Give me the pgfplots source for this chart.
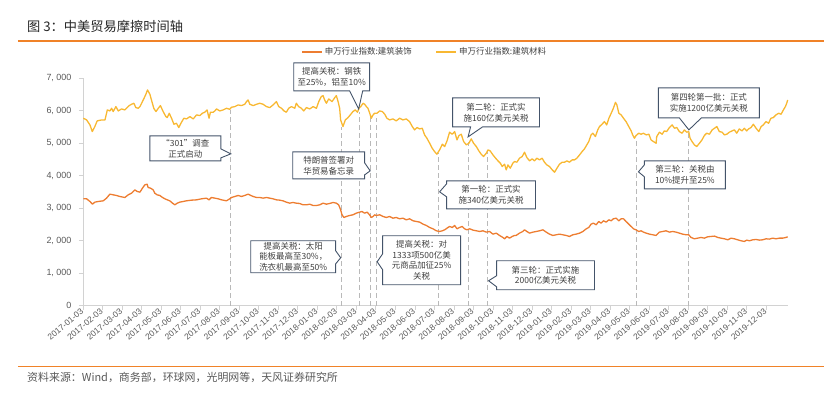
\documentclass[border=0pt]{standalone}
\usepackage{pgfplots}
\pgfplotsset{compat=1.18}
\usepackage{fontspec}
\setmainfont{Liberation Sans}
\newfontfamily\cjk{Noto Sans CJK SC}
\definecolor{cOrange}{RGB}{237,125,49}
\definecolor{cYellow}{RGB}{248,184,50}
\definecolor{cRule}{RGB}{240,130,40}
\definecolor{cBox}{RGB}{68,84,106}
\definecolor{cTxt}{RGB}{64,64,64}
\definecolor{cAxis}{RGB}{210,210,210}
\definecolor{cDash}{RGB}{185,185,185}
\tikzset{
  cbox/.style={draw=cBox, line width=0.9bp, fill=white, line join=miter},
  ctext/.style={align=center, inner sep=0pt, font=\cjk\fontsize{8.5}{11}\selectfont, text=cTxt},
}
\begin{document}
\begin{tikzpicture}
\begin{scope}[x=1bp,y=-1bp]
\path (0,0) rectangle (825,398);
\node[anchor=base west, inner sep=0pt, font=\cjk\fontsize{13.3}{15}\selectfont, text=black!85] at (27,31.5) {图 3：中美贸易摩擦时间轴};
\draw[cRule, line width=1.5bp] (18,41) -- (825,41);
\draw[cRule, line width=1.5bp] (18,367) -- (825,367);
\node[anchor=base west, inner sep=0pt, font=\cjk\fontsize{11}{12}\selectfont, text=black!65] at (27,381.5) {资料来源：Wind，商务部，环球网，光明网等，天风证券研究所};
\end{scope}

\begin{axis}[
  at={(83bp,-306bp)}, anchor=south west,
  scale only axis, width=705.4bp, height=228bp,
  xmin=0, xmax=36.1, ymin=0, ymax=7000,
  axis x line=bottom, axis y line=left,
  axis line style={cAxis, line width=0.8bp, -},
  tick style={cAxis, line width=0.6bp},
  tick align=outside, major tick length=4bp,
  clip=false,
  xtick={0,...,35},
  xticklabels={2017-01-03,2017-02-03,2017-03-03,2017-04-03,2017-05-03,2017-06-03,2017-07-03,2017-08-03,2017-09-03,2017-10-03,2017-11-03,2017-12-03,2018-01-03,2018-02-03,2018-03-03,2018-04-03,2018-05-03,2018-06-03,2018-07-03,2018-08-03,2018-09-03,2018-10-03,2018-11-03,2018-12-03,2019-01-03,2019-02-03,2019-03-03,2019-04-03,2019-05-03,2019-06-03,2019-07-03,2019-08-03,2019-09-03,2019-10-03,2019-11-03,2019-12-03},
  xticklabel style={rotate=40, anchor=east, font=\fontsize{8.5}{10}\selectfont, text=black!65, inner sep=1bp},
  ytick={0,1000,2000,3000,4000,5000,6000,7000},
  yticklabels={0,{1, 000},{2, 000},{3, 000},{4, 000},{5, 000},{6, 000},{7, 000}},
  yticklabel style={font=\fontsize{9}{10}\selectfont, text=black!65, xshift=-4bp},
  legend style={at={(0.485,1.114)}, anchor=center, draw=none, fill=none,
    font=\cjk\fontsize{8.5}{10}\selectfont, text=black!75,
    /tikz/every even column/.append style={column sep=22bp}},
  legend columns=2,
  legend image code/.code={\draw[#1, line width=1.5bp] (0bp,0bp) -- (20bp,0bp);},
]
% dashed event lines
\addplot[cDash, line width=0.8bp, dash pattern=on 5bp off 3bp, forget plot] coordinates {(7.57,0)(7.57,6017)};
\addplot[cDash, line width=0.8bp, dash pattern=on 5bp off 3bp, forget plot] coordinates {(13.24,0)(13.24,5495)};
\addplot[cDash, line width=0.8bp, dash pattern=on 5bp off 3bp, forget plot] coordinates {(14.14,0)(14.14,5956)};
\addplot[cDash, line width=0.8bp, dash pattern=on 5bp off 3bp, forget plot] coordinates {(14.72,0)(14.72,5802)};
\addplot[cDash, line width=0.8bp, dash pattern=on 5bp off 3bp, forget plot] coordinates {(15.03,0)(15.03,5772)};
\addplot[cDash, line width=0.8bp, dash pattern=on 5bp off 3bp, forget plot] coordinates {(18.23,0)(18.23,4697)};
\addplot[cDash, line width=0.8bp, dash pattern=on 5bp off 3bp, forget plot] coordinates {(19.72,0)(19.72,5035)};
\addplot[cDash, line width=0.8bp, dash pattern=on 5bp off 3bp, forget plot] coordinates {(20.74,0)(20.74,4789)};
\addplot[cDash, line width=0.8bp, dash pattern=on 5bp off 3bp, forget plot] coordinates {(28.37,0)(28.37,5127)};
\addplot[cDash, line width=0.8bp, dash pattern=on 5bp off 3bp, forget plot] coordinates {(31.03,0)(31.03,5342)};

% 建筑装饰
\addplot[cOrange, line width=1.3bp, no marks, line join=round] coordinates {
(0.02,3285)(0.19,3285)(0.36,3203)(0.49,3121)(0.61,3183)(0.78,3203)(1.04,3224)(1.21,3306)(1.38,3429)(1.55,3408)(1.72,3388)(1.89,3357)(2.15,3326)(2.32,3408)(2.49,3459)(2.66,3561)(2.78,3510)(2.92,3490)(3.05,3613)(3.17,3715)(3.29,3735)(3.34,3633)(3.46,3613)(3.60,3561)(3.68,3459)(3.80,3408)(3.94,3388)(4.08,3326)(4.20,3285)(4.32,3254)(4.45,3224)(4.59,3152)(4.71,3101)(4.83,3152)(4.96,3183)(5.13,3203)(5.30,3224)(5.56,3244)(5.82,3254)(6.07,3285)(6.33,3306)(6.46,3254)(6.58,3326)(6.76,3306)(6.93,3285)(7.10,3254)(7.35,3224)(7.52,3285)
(7.61,3326)(7.78,3357)(7.95,3388)(8.12,3357)(8.29,3388)(8.46,3429)(8.60,3388)(8.72,3357)(8.89,3326)(9.06,3326)(9.23,3306)(9.40,3326)(9.57,3306)(9.74,3285)(9.91,3254)(10.08,3244)(10.25,3224)(10.42,3183)(10.59,3152)(10.76,3173)(10.93,3152)(11.10,3142)(11.27,3101)(11.45,3101)(11.62,3121)(11.79,3080)(11.96,3080)(12.13,3101)(12.30,3152)(12.47,3121)(12.64,3142)(12.81,3173)(12.98,3152)(13.10,3101)(13.20,2947)(13.27,2794)(13.37,2712)(13.49,2743)(13.66,2773)(13.83,2794)(14.00,2845)(14.17,2875)(14.29,2896)(14.43,2845)(14.56,2875)(14.68,2794)(14.77,2712)(14.86,2743)(14.94,2794)
(15.03,2773)(15.20,2794)(15.37,2743)(15.54,2712)(15.71,2743)(15.88,2691)(16.05,2712)(16.22,2671)(16.39,2691)(16.56,2640)(16.73,2671)(16.91,2610)(17.08,2589)(17.25,2569)(17.42,2507)(17.59,2466)(17.76,2405)(17.93,2364)(18.10,2303)(18.27,2282)(18.41,2303)(18.53,2333)(18.65,2384)(18.78,2436)(18.92,2405)(19.04,2466)(19.16,2364)(19.29,2405)(19.43,2436)(19.55,2364)(19.67,2333)(19.81,2364)(19.98,2323)(20.15,2303)(20.32,2282)(20.49,2303)(20.66,2262)(20.83,2282)(21.00,2200)(21.17,2231)(21.34,2160)(21.51,2098)(21.60,2057)(21.72,2129)(21.85,2077)(21.99,2129)(22.11,2160)
(22.19,2160)(22.36,2231)(22.53,2282)(22.62,2333)(22.74,2282)(22.88,2231)(23.05,2262)(23.22,2282)(23.39,2303)(23.56,2333)(23.73,2262)(23.90,2200)(24.07,2160)(24.24,2180)(24.41,2200)(24.58,2180)(24.75,2160)(24.92,2129)(25.09,2180)(25.26,2200)(25.44,2231)(25.61,2282)(25.78,2364)(25.91,2405)(26.03,2507)(26.15,2538)(26.29,2487)(26.42,2589)(26.54,2538)(26.66,2610)(26.80,2569)(26.94,2640)(27.06,2610)(27.17,2671)(27.31,2691)(27.45,2610)(27.57,2671)(27.69,2671)(27.82,2589)(27.96,2507)(28.08,2436)(28.20,2364)(28.33,2333)(28.47,2282)(28.59,2303)(28.71,2262)(28.85,2231)(29.02,2200)(29.19,2180)(29.36,2160)
(29.53,2262)(29.70,2282)(29.87,2303)(30.04,2262)(30.21,2282)(30.38,2262)(30.55,2231)(30.72,2200)(30.90,2180)(31.03,2180)(31.15,2098)(31.32,2057)(31.49,2077)(31.66,2098)(31.83,2077)(32.00,2118)(32.17,2129)(32.35,2139)(32.52,2098)(32.68,2077)(32.86,2057)(33.03,2026)(33.20,2077)(33.37,2057)(33.54,2026)(33.71,1996)(33.88,1975)(34.00,2016)(34.14,1996)(34.31,2026)(34.48,2036)(34.65,2016)(34.82,2026)(34.99,2057)(35.16,2047)(35.33,2077)(35.50,2057)(35.67,2077)(35.84,2077)(36.01,2098)(36.10,2118)
};
\addlegendentry{申万行业指数:建筑装饰}

% 建筑材料
\addplot[cYellow, line width=1.3bp, no marks, line join=round] coordinates {
(0.02,5761)(0.19,5710)(0.36,5557)(0.48,5352)(0.61,5506)(0.73,5680)(0.96,5710)(1.13,5710)(1.25,6017)(1.38,5986)(1.47,6068)(1.55,5966)(1.69,6119)(1.81,5986)(1.98,6048)(2.15,6017)(2.37,6150)(2.49,6191)(2.61,6222)(2.71,6089)(2.83,6068)(2.92,6119)(3.09,6324)(3.21,6478)(3.31,6631)(3.43,6498)(3.51,6324)(3.63,6068)(3.74,5966)(3.86,6068)(3.97,6150)(4.11,5966)(4.25,5812)(4.32,5782)(4.42,5915)(4.54,5761)(4.66,5577)(4.79,5608)(4.91,5475)(5.02,5608)(5.17,5761)(5.31,5741)(5.48,5812)(5.65,5741)(5.82,5864)(5.99,5843)(6.12,5915)(6.24,5946)(6.36,6017)(6.46,5761)(6.53,5946)(6.67,5946)(6.76,5986)(6.84,6048)(7.01,5986)(7.18,6017)(7.35,6068)(7.52,6037)
(7.61,6099)(7.78,6119)(7.95,6171)(8.12,6150)(8.29,6191)(8.38,6273)(8.46,6324)(8.55,6191)(8.72,6150)(8.89,6191)(9.06,6222)(9.23,6191)(9.40,6119)(9.57,6089)(9.74,6171)(9.91,6273)(10.03,6119)(10.17,6068)(10.30,5986)(10.42,5946)(10.54,6068)(10.68,6119)(10.85,6068)(10.93,6222)(11.05,6119)(11.19,6068)(11.31,5986)(11.45,6089)(11.62,6048)(11.79,6119)(11.96,6068)(12.08,6273)(12.21,6427)(12.30,6457)(12.38,6324)(12.47,6222)(12.59,6355)(12.76,6273)(12.90,6396)(12.98,6457)(13.07,6273)(13.15,6068)(13.20,5710)(13.32,5506)(13.44,5710)(13.58,5782)(13.72,5884)(13.83,5966)(13.95,6017)(14.06,5946)(14.14,6068)(14.23,6119)(14.35,6222)(14.43,6191)(14.52,6119)(14.60,6068)(14.69,5915)(14.77,5761)(14.86,5864)(14.94,5915)
(15.06,5915)(15.20,5986)(15.34,5966)(15.46,5884)(15.57,5761)(15.71,5710)(15.88,5741)(16.05,5680)(16.22,5761)(16.39,5710)(16.56,5741)(16.73,5659)(16.87,5506)(16.99,5403)(17.11,5475)(17.25,5434)(17.38,5454)(17.50,5250)(17.62,5147)(17.76,4994)(17.89,4840)(18.01,4738)(18.13,4656)(18.27,4789)(18.41,4963)(18.53,4892)(18.65,5066)(18.78,5332)(18.92,5270)(19.04,5352)(19.16,5096)(19.26,5229)(19.38,5270)(19.50,5045)(19.64,4943)(19.77,4994)(19.89,5127)(20.01,4994)(20.15,4892)(20.28,4759)(20.40,4656)(20.52,4585)(20.66,4687)(20.75,4789)(20.86,4759)(21.00,4636)(21.14,4533)(21.26,4452)(21.38,4380)(21.48,4277)(21.60,4349)(21.68,4175)(21.77,4329)(21.89,4226)(22.02,4380)(22.11,4431)
(22.23,4411)(22.36,4533)(22.50,4585)(22.62,4718)(22.74,4554)(22.88,4452)(23.01,4513)(23.13,4452)(23.25,4533)(23.39,4482)(23.52,4533)(23.64,4411)(23.76,4329)(23.90,4277)(24.04,4175)(24.16,4103)(24.28,4226)(24.41,4349)(24.55,4411)(24.67,4411)(24.79,4452)(24.92,4411)(25.06,4482)(25.18,4482)(25.30,4533)(25.44,4636)(25.57,4738)(25.69,4820)(25.81,4943)(25.91,5045)(26.03,5250)(26.12,5301)(26.25,5199)(26.37,5403)(26.46,5506)(26.59,5577)(26.71,5659)(26.83,5557)(26.94,5761)(27.06,5915)(27.17,6068)(27.28,6252)(27.35,6171)(27.45,5915)(27.57,5864)(27.69,5761)(27.82,5659)(27.96,5506)(28.08,5373)(28.16,5250)(28.25,5147)(28.33,5229)(28.47,5301)(28.59,5270)(28.71,5301)(28.85,5250)(28.99,5270)(29.10,5096)(29.22,5045)(29.36,4994)
(29.39,5199)(29.53,5332)(29.67,5270)(29.78,5373)(29.90,5352)(30.04,5475)(30.18,5557)(30.30,5454)(30.42,5475)(30.55,5352)(30.69,5301)(30.81,5403)(30.93,5332)(31.03,5352)(31.10,5147)(31.20,5045)(31.32,4943)(31.44,4892)(31.58,4994)(31.71,5096)(31.83,5229)(31.95,5301)(32.09,5270)(32.23,5403)(32.35,5454)(32.47,5506)(32.60,5352)(32.74,5332)(32.86,5250)(32.98,5270)(33.11,5332)(33.25,5373)(33.37,5403)(33.49,5301)(33.62,5434)(33.76,5373)(33.88,5454)(34.00,5373)(34.10,5434)(34.22,5475)(34.34,5577)(34.48,5454)(34.62,5352)(34.74,5506)(34.85,5557)(34.99,5659)(35.12,5608)(35.24,5761)(35.36,5782)(35.50,5864)(35.64,5915)(35.76,5884)(35.88,6017)(35.98,6119)(36.05,6222)(36.10,6324)
};
\addlegendentry{申万行业指数:建筑材料}
\end{axis}

\begin{scope}[x=1bp,y=-1bp]
% 1 301
\filldraw[cbox] (150,136) -- (221,136) -- (221,149) -- (231,154) -- (221,158) -- (221,161) -- (150,161) -- cycle;
\node[ctext] at (185.5,148.5) {“301”调查\\正式启动};
% 2 steel
\filldraw[cbox] (294,63) -- (370,63) -- (370,91) -- (363,91) -- (359,109) -- (350,91) -- (294,91) -- cycle;
\node[ctext] at (332,77) {提高关税：钢铁\\至25\%，铝至10\%};
% 3 memo
\filldraw[cbox] (293,152) -- (365,152) -- (365,163) -- (370.5,171) -- (365,175) -- (365,179) -- (293,179) -- cycle;
\node[ctext] at (329,165.5) {特朗普签署对\\华贸易备忘录};
% 4 solar
\filldraw[cbox] (251,241) -- (336,241) -- (336,251) -- (341,258) -- (336,264) -- (336,273) -- (251,273) -- cycle;
\node[ctext] at (293.5,257) {提高关税：太阳\\能板最高至30\%，\\洗衣机最高至50\%};
% 5 1333
\filldraw[cbox] (383,236) -- (461,236) -- (461,285) -- (383,285) -- (383,270) -- (377.5,262) -- (383,254) -- cycle;
\node[ctext] at (422,260.5) {提高关税：对\\1333项500亿美\\元商品加征25\%\\关税};
% 6 round 1
\filldraw[cbox] (447,181) -- (536,181) -- (536,209) -- (447,209) -- (447,197) -- (440,192) -- (447,184) -- cycle;
\node[ctext] at (491.5,195) {第一轮：正式实\\施340亿美元关税};
% 7 round 2
\filldraw[cbox] (453,98) -- (540,98) -- (540,127) -- (483,127) -- (468.5,137) -- (471,127) -- (453,127) -- cycle;
\node[ctext] at (496.5,112.5) {第二轮：正式实\\施160亿美元关税};
% 8 round 3
\filldraw[cbox] (497,261) -- (595,261) -- (595,290) -- (497,290) -- (497,287) -- (489,281) -- (497,276) -- cycle;
\node[ctext] at (546,275.5) {第三轮：正式实施\\2000亿美元关税};
% 9 round 4
\filldraw[cbox] (659,88) -- (760,88) -- (760,118) -- (702,118) -- (689.5,130) -- (680,118) -- (659,118) -- cycle;
\node[ctext] at (709.5,103) {第四轮第一批：正式\\实施1200亿美元关税};
% 10 round 3 raise
\filldraw[cbox] (645,161) -- (726,161) -- (726,189) -- (645,189) -- (645,177) -- (639,172) -- (645,165) -- cycle;
\node[ctext] at (685.5,175) {第三轮：关税由\\10\%提升至25\%};
\end{scope}
\end{tikzpicture}
\end{document}
